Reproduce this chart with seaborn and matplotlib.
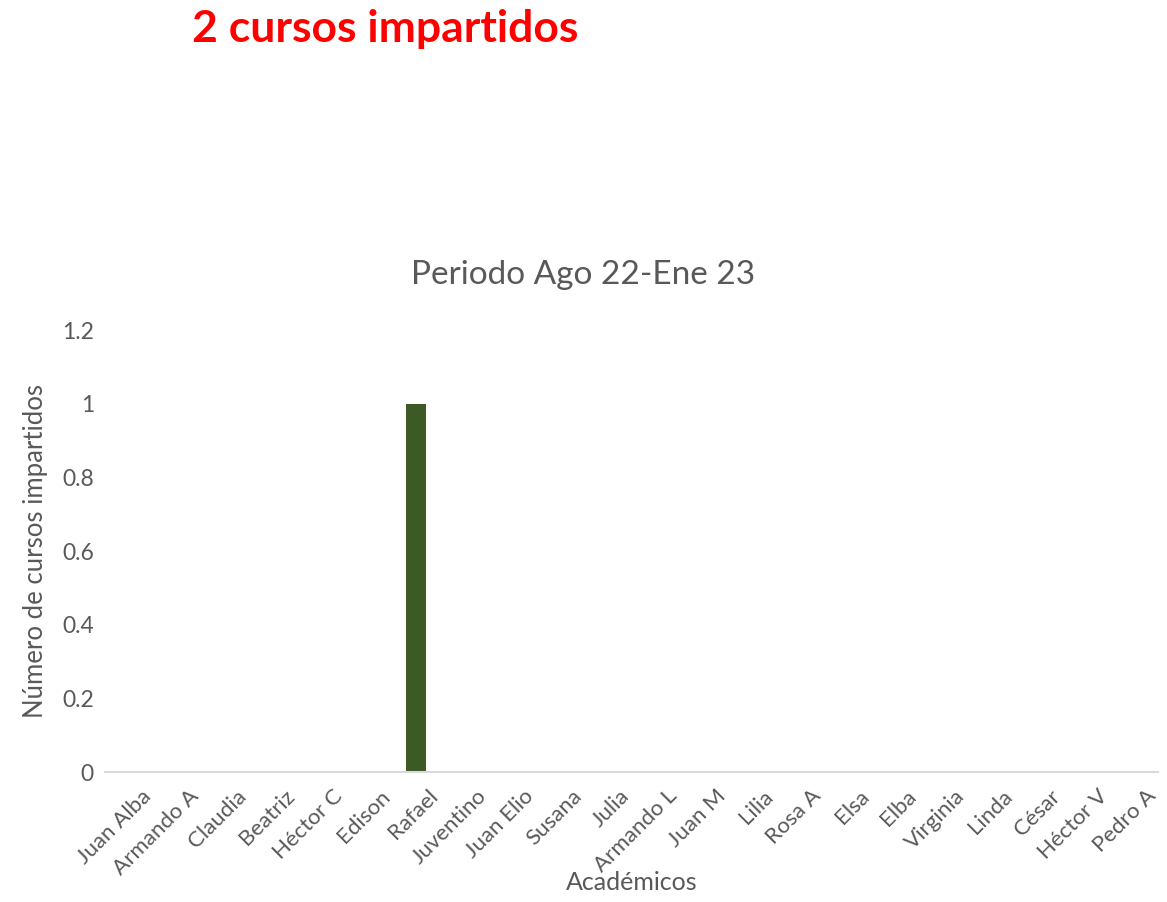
import matplotlib
matplotlib.use("Agg")
import matplotlib.pyplot as plt
import matplotlib.transforms as mtransforms
import seaborn as sns
import pandas as pd

academicos = ["Juan Alba", "Armando A", "Claudia", "Beatriz", "Héctor C", "Edison",
              "Rafael", "Juventino", "Juan Elio", "Susana", "Julia", "Armando L",
              "Juan M", "Lilia", "Rosa A", "Elsa", "Elba", "Virginia", "Linda",
              "César", "Héctor V", "Pedro A"]
cursos = [0, 0, 0, 0, 0, 0, 1, 0, 0, 0, 0, 0, 0, 0, 0, 0, 0, 0, 0, 0, 0, 0]
yticks = [0, 0.2, 0.4, 0.6, 0.8, 1, 1.2]
yticklabels = ["0", "0.2", "0.4", "0.6", "0.8", "1", "1.2"]

sns.set_theme(style="white")
plt.rcParams['font.family'] = ['Lato', 'DejaVu Sans']

df = pd.DataFrame({"Académicos": academicos, "Cursos": cursos})

fig = plt.figure(figsize=(11.67, 9.02), dpi=100)
ax = fig.add_axes([0.09, 0.144, 0.902, 0.49])
sns.barplot(data=df, x="Académicos", y="Cursos", color="#3B5A24", width=0.42,
            saturation=1, linewidth=0, ax=ax)

gray = "#595959"
ax.set_ylim(0, 1.2)
ax.set_yticks(yticks)
ax.set_yticklabels(yticklabels, fontsize=16.5, color=gray)
ax.set_xticklabels(academicos, rotation=45, ha="right", rotation_mode="anchor",
                   fontsize=16, color=gray)
ax.tick_params(axis="both", length=0, pad=8)
ax.tick_params(axis="x", pad=10)
offset = mtransforms.ScaledTranslation(0.12, 0, fig.dpi_scale_trans)
for lbl in ax.get_xticklabels():
    lbl.set_transform(lbl.get_transform() + offset)
for s in ["top", "right", "left"]:
    ax.spines[s].set_visible(False)
ax.spines["bottom"].set_color("#D9D9D9")
ax.spines["bottom"].set_linewidth(1.5)
ax.set_xlim(-0.5, len(academicos) - 0.5)

ax.set_xlabel("Académicos", fontsize=18, color=gray, labelpad=-6)
ax.set_ylabel("Número de cursos impartidos", fontsize=18.5, color=gray, labelpad=10)

fig.text(0.5, 0.695, "Periodo Ago 22-Ene 23", ha="center", va="center",
         fontsize=24, color=gray)
fig.text(0.33, 0.968, "2 cursos impartidos", ha="center", va="center",
         fontsize=32, color="#FF0000", fontweight="bold")

fig.savefig("out.png", dpi=100)
